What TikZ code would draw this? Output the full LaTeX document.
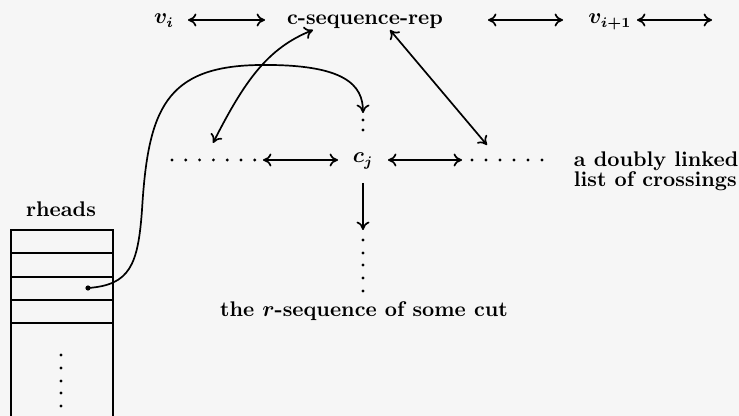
\documentclass[tikz,border=0pt]{standalone}
\usetikzlibrary{arrows.meta}
\definecolor{bg}{RGB}{246,246,246}
\begin{document}
\begin{tikzpicture}[x=0.5pt,y=-0.5pt, line width=0.85pt,
  >={To[length=4.2pt,width=6.5pt]},
  txt/.style={inner sep=0pt, font=\fontsize{10.6}{10}\selectfont\bfseries\boldmath, anchor=base},
  dotmark/.style={fill, circle, inner sep=0pt, minimum size=2.6pt}]
\fill[bg] (0,0) rectangle (739,416);
\useasboundingbox (0,0) rectangle (739,416);

% text nodes
\node[txt] (vi)   at (164,24) {$v_i$};
\node[txt] (cseq) at (365,25) {c-sequence-rep};
\node[txt] (vii)  at (610,24) {$v_{i+1}$};
\node[txt] (cj)   at (363,163) {$c_j$};
\node[txt, anchor=base west] (dll1) at (573,167) {a doubly linked};
\node[txt, anchor=base west] (dll2) at (573,187) {list of crossings};
\node[txt] (rseq) at (364,317) {the $r$-sequence of some cut};
\node[txt] (rh)   at (61,217) {rheads};

% coordinates for arrow ends
\coordinate (t1a) at (188,20);  \coordinate (t1b) at (265,20);
\coordinate (t2a) at (488,20);  \coordinate (t2b) at (563,20);
\coordinate (t3a) at (637,20);  \coordinate (t3b) at (712,20);
\coordinate (m1a) at (263,160); \coordinate (m1b) at (338,160);
\coordinate (m2a) at (388,160); \coordinate (m2b) at (462,160);
\coordinate (dna) at (363,183); \coordinate (dnb) at (363,230);
\coordinate (csl) at (313,30);  \coordinate (ldots) at (213,143);
\coordinate (csr) at (390,30);  \coordinate (rdots) at (487,145);
\coordinate (cjtop) at (363,113);
\node[dotmark] (rdot) at (88,288) {};

% top row arrows
\draw[<->] (t1a) -- (t1b);
\draw[<->] (t2a) -- (t2b);
\draw[<->] (t3a) -- (t3b);
% middle row arrows
\draw[<->] (m1a) -- (m1b);
\draw[<->] (m2a) -- (m2b);
\draw[->] (dna) -- (dnb);
% diagonal arrows
\draw[<->] (csl) .. controls (268,48) and (245,80) .. (ldots);
\draw[<->] (csr) -- (rdots);
% pointer from rheads
\draw[->] (rdot.center) .. controls (130,285) and (138,265) .. (142,210)
   .. controls (148,110) and (165,66) .. (260,65)
   .. controls (345,64) and (363,85) .. (cjtop);

% dots
\foreach \y in {120,130} \fill (363,\y) circle (0.8pt);
\foreach \y in {240,253,265,278,291} \fill (363,\y) circle (0.8pt);
\foreach \k in {0,...,6} \fill ({172+13.8*\k},160) circle (0.8pt);
\foreach \k in {0,...,5} \fill ({472+14*\k},160) circle (0.8pt);
\foreach \y in {355,368,381,393,406} \fill (61,\y) circle (0.8pt);

% rheads box
\draw (11,416) -- (11,230) -- (113,230) -- (113,416);
\foreach \y in {253,277,300,323} \draw (11,\y) -- (113,\y);
\end{tikzpicture}
\end{document}
